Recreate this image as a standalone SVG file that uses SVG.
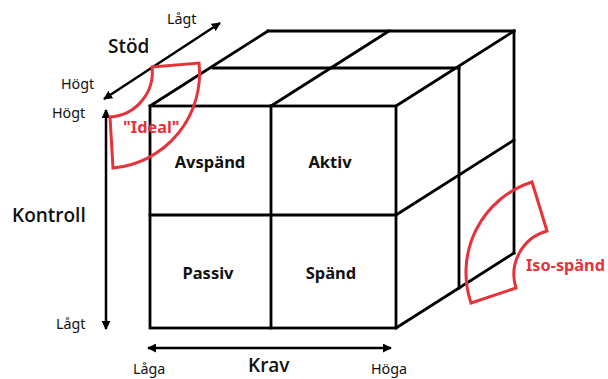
<svg xmlns="http://www.w3.org/2000/svg" width="608" height="379" viewBox="0 0 608 379">
<style>
  .edge { stroke: #000; stroke-width: 2.8; fill: none; stroke-linecap: square; }
  .axis { stroke: #000; stroke-width: 2.5; fill: none; }
  .zone { stroke: #e8323a; stroke-width: 3; fill: none; stroke-linejoin: miter; }
  .cell { font-family: "Noto Sans", "Open Sans", sans-serif; font-weight: bold; font-size: 16.5px; fill: #111; text-anchor: middle; }
  .small { font-family: "Noto Sans", "Open Sans", sans-serif; font-size: 14.3px; fill: #111; }
  .big { font-family: "Open Sans", "Noto Sans", sans-serif; font-weight: 600; font-size: 19px; fill: #111; }
  .red { font-family: "Noto Sans", "Open Sans", sans-serif; font-weight: bold; font-size: 16.3px; fill: #e8323a; }
</style>
<defs>
  <marker id="head" viewBox="0 0 10 10" refX="9" refY="5" markerWidth="9" markerHeight="9" markerUnits="userSpaceOnUse" orient="auto-start-reverse">
    <path d="M0,0 L10,5 L0,10 z" fill="#000"/>
  </marker>
</defs>
<rect width="608" height="379" fill="#fff"/>

<g id="cube">
  <rect class="edge" x="150" y="106" width="246" height="222"/>
  <line class="edge" x1="271" y1="106" x2="271" y2="328"/>
  <line class="edge" x1="150" y1="215" x2="396" y2="215"/>
  <line class="edge" x1="150" y1="106" x2="268" y2="31"/>
  <line class="edge" x1="271" y1="106" x2="389" y2="31"/>
  <line class="edge" x1="396" y1="106" x2="514" y2="31"/>
  <line class="edge" x1="213" y1="68" x2="459" y2="68"/>
  <line class="edge" x1="268" y1="31" x2="514" y2="31"/>
  <line class="edge" x1="514" y1="31" x2="514" y2="253"/>
  <line class="edge" x1="459" y1="68" x2="459" y2="288"/>
  <line class="edge" x1="396" y1="215" x2="514" y2="140"/>
  <line class="edge" x1="396" y1="328" x2="514" y2="253"/>
</g>

<g id="cell-avspand"><text class="cell" x="210" y="168">Avspänd</text></g>
<g id="cell-aktiv"><text class="cell" x="330" y="168">Aktiv</text></g>
<g id="cell-passiv"><text class="cell" x="208" y="279">Passiv</text></g>
<g id="cell-spand"><text class="cell" x="331" y="279">Spänd</text></g>

<g id="connectors">
  <line class="axis" x1="104" y1="99" x2="220" y2="23" marker-start="url(#head)" marker-end="url(#head)"/>
  <line class="axis" x1="106" y1="110" x2="106" y2="329" marker-start="url(#head)" marker-end="url(#head)"/>
  <line class="axis" x1="148" y1="348" x2="391" y2="348" marker-start="url(#head)" marker-end="url(#head)"/>
</g>

<g id="axis-stod">
  <text class="big" x="108" y="53">Stöd</text>
  <text class="small" x="167" y="24">Lågt</text>
  <text class="small" x="61" y="89">Högt</text>
</g>
<g id="axis-kontroll">
  <text class="big" x="12" y="222">Kontroll</text>
  <text class="small" x="52" y="118">Högt</text>
  <text class="small" x="56" y="329">Lågt</text>
</g>
<g id="axis-krav">
  <text class="big" x="248" y="372">Krav</text>
  <text class="small" x="133" y="374">Låga</text>
  <text class="small" x="371" y="374">Höga</text>
</g>

<g id="zone-ideal">
  <path class="zone" d="M152,67 L199,63 A95,95 0 0 1 113,168 L110,117 A45,45 0 0 0 152,67 Z"/>
  <text class="red" x="123" y="133">"Ideal"</text>
</g>
<g id="zone-iso">
  <path class="zone" d="M532,182 A95,95 0 0 0 471,303 L516,288 A45,45 0 0 1 547,231 Z"/>
  <text class="red" x="526" y="271">Iso-spänd</text>
</g>
</svg>
